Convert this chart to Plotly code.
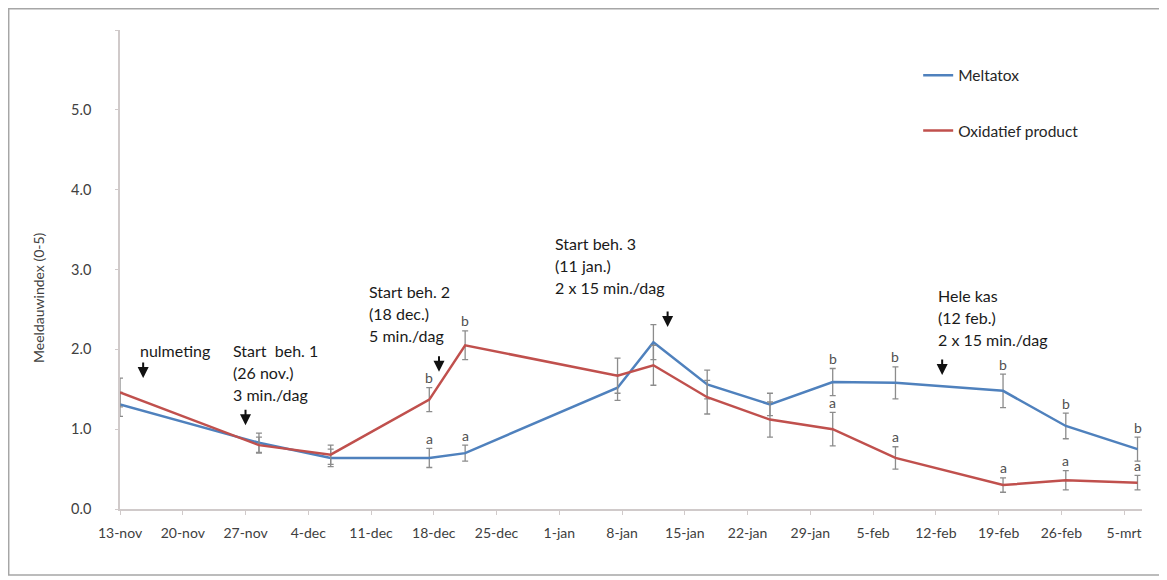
import plotly.graph_objects as go

# ---- data -------------------------------------------------------------
dates = ["2012-11-13", "2012-11-28 12:00", "2012-12-06 12:00", "2012-12-17 12:00",
         "2012-12-21 12:00", "2013-01-07 12:00", "2013-01-11 12:00", "2013-01-17 12:00",
         "2013-01-24 12:00", "2013-01-31 12:00", "2013-02-07 12:00", "2013-02-19 12:00",
         "2013-02-26 12:00", "2013-03-06 12:00"]

meltatox = [1.31, 0.83, 0.64, 0.64, 0.70, 1.52, 2.09, 1.56, 1.31, 1.59, 1.58, 1.48, 1.04, 0.75]
meltatox_err = [0.15, 0.12, 0.11, 0.12, 0.10, 0.16, 0.22, 0.18, 0.14, 0.17, 0.20, 0.21, 0.16, 0.15]
meltatox_letters = ["", "", "", "a", "a", "", "", "", "", "b", "b", "b", "b", "b"]

oxidatief = [1.46, 0.80, 0.68, 1.37, 2.05, 1.67, 1.80, 1.40, 1.12, 1.00, 0.64, 0.30, 0.36, 0.33]
oxidatief_err = [0.18, 0.10, 0.12, 0.15, 0.18, 0.22, 0.25, 0.21, 0.22, 0.21, 0.14, 0.09, 0.12, 0.09]
oxidatief_letters = ["", "", "", "b", "b", "", "", "", "", "a", "a", "a", "a", "a"]

tick_dates = ["2012-11-13", "2012-11-20", "2012-11-27", "2012-12-04", "2012-12-11",
              "2012-12-18", "2012-12-25", "2013-01-01", "2013-01-08", "2013-01-15",
              "2013-01-22", "2013-01-29", "2013-02-05", "2013-02-12", "2013-02-19",
              "2013-02-26", "2013-03-05"]
tick_labels = ["13-nov", "20-nov", "27-nov", "4-dec", "11-dec", "18-dec", "25-dec",
               "1-jan", "8-jan", "15-jan", "22-jan", "29-jan", "5-feb", "12-feb",
               "19-feb", "26-feb", "5-mrt"]

y_tick_vals = [0, 1, 2, 3, 4, 5, 6]
y_tick_labels = ["0.0", "1.0", "2.0", "3.0", "4.0", "5.0", ""]

series_names = ["Meltatox", "Oxidatief product"]

# ---- styling ------------------------------------------------------------
FONT = "Lato"
BLUE = "#4F81BD"
RED = "#C0504D"
ERR = "#8C8C8C"
TXT = "#404040"

fig = go.Figure()

for name, vals, errs, color in [(series_names[0], meltatox, meltatox_err, BLUE),
                                (series_names[1], oxidatief, oxidatief_err, RED)]:
    fig.add_trace(go.Scatter(
        x=dates, y=vals, mode="lines", name=name, legendgroup=name,
        line=dict(color=color, width=2.5),
        error_y=dict(type="data", array=errs, visible=True, color=ERR,
                     thickness=1.3, width=3),
    ))

annotations = []

# significance letters
for vals, errs, letters in [(meltatox, meltatox_err, meltatox_letters),
                            (oxidatief, oxidatief_err, oxidatief_letters)]:
    for d, v, e, l in zip(dates, vals, errs, letters):
        if l:
            annotations.append(dict(x=d, y=v + e, xref="x", yref="y", text=l,
                                    showarrow=False, yanchor="middle", yshift=10,
                                    font=dict(family=FONT, size=14, color="#505050")))

# treatment notes: (left x, y of first line, lines, arrow x, arrow tip y)
notes = [
    ("2012-11-15", 1.99, ["nulmeting"], "2012-11-15 14:00", 1.64),
    ("2012-11-25 10:00", 1.98, ["Start  beh. 1", "(26 nov.)", "3 min./dag"], "2012-11-27", 1.05),
    ("2012-12-10 14:00", 2.72, ["Start beh. 2", "(18 dec.)", "5 min./dag"], "2012-12-18 14:00", 1.72),
    ("2012-12-31 07:00", 3.33, ["Start beh. 3", "(11 jan.)", "2 x 15 min./dag"], "2013-01-13 02:00", 2.28),
    ("2013-02-12", 2.68, ["Hele kas", "(12 feb.)", "2 x 15 min./dag"], "2013-02-12 17:00", 1.68),
]
for x0, y0, lines, ax_, ay_ in notes:
    for i, line in enumerate(lines):
        annotations.append(dict(x=x0, y=y0, xref="x", yref="y", text=line,
                                showarrow=False, xanchor="left", yanchor="middle",
                                yshift=-22 * i,
                                font=dict(family=FONT, size=16, color="#1a1a1a")))
    annotations.append(dict(x=ax_, y=ay_, xref="x", yref="y", text="",
                            showarrow=True, arrowhead=2, arrowsize=1.1, arrowwidth=2,
                            arrowcolor="#111111", ax=0, ay=-17))

# y axis title
annotations.append(dict(x=-0.0793, y=0.4426, xref="paper", yref="paper",
                        text="Meeldauwindex (0-5)", textangle=-90, showarrow=False,
                        xanchor="center", yanchor="middle",
                        font=dict(family=FONT, size=14, color=TXT)))

# page body has an 8 px margin, so the figure is sized to fit the window
fig.update_layout(
    width=1159, height=572,
    margin=dict(l=112, r=25, t=22, b=71),
    paper_bgcolor="white", plot_bgcolor="white",
    font=dict(family=FONT, color=TXT),
    showlegend=True,
    legend=dict(x=0.781, y=0.94, xanchor="left", yanchor="top",
                tracegroupgap=32, bgcolor="rgba(0,0,0,0)",
                font=dict(family=FONT, size=15.5, color="#262626")),
    annotations=annotations,
    shapes=[dict(type="rect", xref="paper", yref="paper",
                 x0=-0.1089, x1=1.0176, y0=-0.1378, y1=1.0444,
                 line=dict(color="#A6A6A6", width=1.5), layer="below")],
)

fig.update_xaxes(
    type="date", range=["2012-11-13", "2013-03-07"],
    tickmode="array", tickvals=tick_dates, ticktext=tick_labels,
    showgrid=False, zeroline=False,
    showline=True, linecolor="#D0CACA", linewidth=1.5,
    ticks="outside", ticklen=4, tickcolor="#D0CACA",
    tickfont=dict(family=FONT, size=14, color=TXT),
    ticklabelstandoff=6,
)
fig.update_yaxes(
    range=[0, 6], tickmode="array", tickvals=y_tick_vals, ticktext=y_tick_labels,
    showgrid=False, zeroline=False,
    showline=True, linecolor="#D0CACA", linewidth=1.5,
    ticks="outside", ticklen=3, tickcolor="#D0CACA",
    tickfont=dict(family=FONT, size=14.5, color=TXT),
    ticklabelstandoff=21,
)

fig.write_html("out.html")
